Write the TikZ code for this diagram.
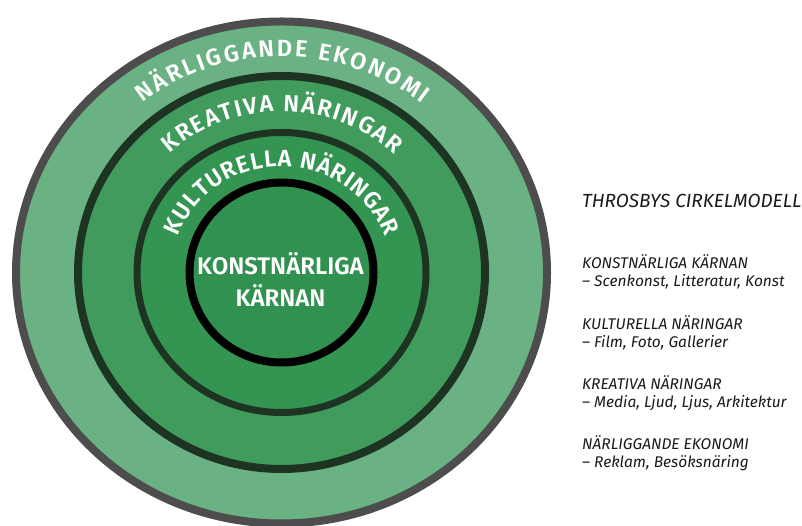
\documentclass[tikz,border=0pt]{standalone}
\usepackage{fontspec}
\setmainfont{Fira Sans}
\newfontfamily\ringfont{Fira Sans SemiBold}
\usetikzlibrary{positioning,decorations.text}
\definecolor{bandA}{HTML}{6AB283}
\definecolor{bandB}{HTML}{409B5C}
\definecolor{bandC}{HTML}{349452}
\definecolor{bandD}{HTML}{309150}
\definecolor{ringgray}{HTML}{4D4D4D}
\definecolor{ringdark}{HTML}{1E3423}
\definecolor{legendtext}{HTML}{1A1A1A}

\begin{document}
\begin{tikzpicture}[x=1pt, y=1pt,
    ring/.style={line width=8pt},
    ringlabel/.style 2 args={decorate, decoration={text along path, text align=center, text color=white,
        text={|\ringfont\fontsize{23.5}{23.5}\selectfont\kern#1|#2}}},
    legend/.style={anchor=west, inner sep=0pt, text=legendtext, font=\itshape\fontsize{15.5}{18}\selectfont}]
    \useasboundingbox (0,0) rectangle (802,526);
    \coordinate (c) at (281.5,253.5);

    % the four rings, outermost first
    \draw[ring, draw=ringgray, fill=bandA] (c) ellipse [x radius=265.5, y radius=251];
    \draw[ring, draw=ringdark, fill=bandB] (c) ellipse [x radius=203.5, y radius=196.5];
    \draw[ring, line width=7pt, draw=ringdark, fill=bandC] (c) ellipse [x radius=144.5, y radius=140];
    \draw[ring, draw=black, fill=bandD] (c) ellipse [x radius=92, y radius=90];

    % curved labels
    \path[ringlabel={2.4pt}{NÄRLIGGANDE EKONOMI}] (c) ++(175:225 and 216) arc [start angle=175, end angle=5, x radius=225, y radius=216];
    \path[ringlabel={1.8pt}{KREATIVA NÄRINGAR}] (c) ++(175:167 and 161) arc [start angle=175, end angle=5, x radius=167, y radius=161];
    \path[ringlabel={0.9pt}{KULTURELLA NÄRINGAR}] (c) ++(178:110 and 106) arc [start angle=178, end angle=2, x radius=110, y radius=106];

    \node (core) at (280.5,247) [align=center, text=white, font=\ringfont\fontsize{24}{32}\selectfont] {KONSTNÄRLIGA\\KÄRNAN};

    % legend
    \node (title) at (582,325) [legend, font=\itshape\fontsize{19}{22}\selectfont] {THROSBYS CIRKELMODELL};
    \node (k1) at (582,264) [legend] {KONSTNÄRLIGA KÄRNAN};
    \node (k1d) at (582,244) [legend] {– Scenkonst, Litteratur, Konst};
    \node (k2) at (582,203) [legend] {KULTURELLA NÄRINGAR};
    \node (k2d) at (582,183) [legend] {– Film, Foto, Gallerier};
    \node (k3) at (582,143) [legend] {KREATIVA NÄRINGAR};
    \node (k3d) at (582,123) [legend] {– Media, Ljud, Ljus, Arkitektur};
    \node (k4) at (582,83) [legend] {NÄRLIGGANDE EKONOMI};
    \node (k4d) at (582,63) [legend] {– Reklam, Besöksnäring};
\end{tikzpicture}
\end{document}
